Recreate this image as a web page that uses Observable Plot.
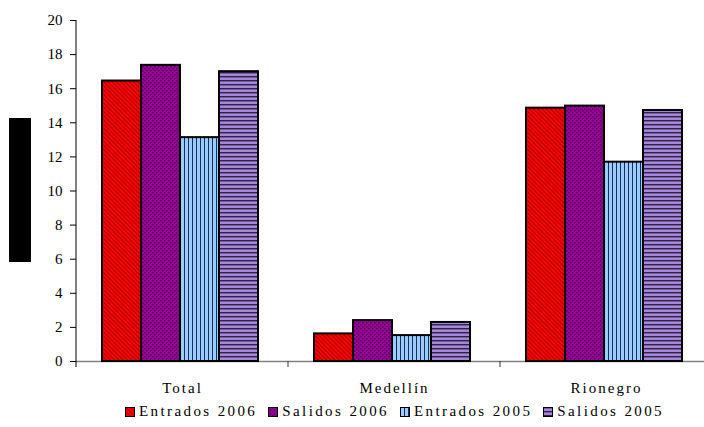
<!DOCTYPE html>
<html><head><meta charset="utf-8">
<script src="https://cdn.jsdelivr.net/npm/d3@7"></script>
<script src="https://cdn.jsdelivr.net/npm/@observablehq/plot@0.6"></script>
<style>
html,body{margin:0;padding:0;background:#fff;overflow:hidden;width:704px;height:427px;}
#wrap{position:relative;width:704px;height:427px;overflow:hidden;}
#chart{position:absolute;left:0;top:0;width:712px;}
#redact{position:absolute;left:9px;top:118px;width:22px;height:144px;background:#000;}
#legend{position:absolute;left:125px;top:403px;display:flex;align-items:center;font-family:"Liberation Serif","Times New Roman",Times,serif;font-size:15px;letter-spacing:2.4px;white-space:nowrap;color:#000;}
.item{display:flex;align-items:center;margin-right:11px;}
.sw{width:10px;height:10px;margin-right:4px;display:block;}
#chart svg text{font-family:"Liberation Serif","Times New Roman",Times,serif;}
</style>
</head>
<body>
<div id="wrap">
  <div id="chart"></div>
  <div id="redact"></div>
  <div id="legend"></div>
</div>
<script>
const categories = ["Total", "Medellín", "Rionegro"];
const series = ["Entrados 2006", "Salidos 2006", "Entrados 2005", "Salidos 2005"];
const entrados2006 = [16.45, 1.62, 14.86];
const salidos2006 = [17.37, 2.40, 14.98];
const entrados2005 = [13.13, 1.52, 11.69];
const salidos2005 = [17.00, 2.29, 14.72];
const yTicks = [0, 2, 4, 6, 8, 10, 12, 14, 16, 18, 20];

const seriesValues = [entrados2006, salidos2006, entrados2005, salidos2005];
const data = [];
categories.forEach((c, i) => {
  seriesValues.forEach((arr, j) => data.push({category: c, series: series[j], value: arr[i]}));
});
const patternIds = series.map((_, i) => `url(#pat${i})`);
const serif = "'Liberation Serif', 'Times New Roman', Times, serif";

const chart = Plot.plot({
  width: 712, height: 400,
  marginLeft: 76, marginRight: 0, marginTop: 20, marginBottom: 39,
  style: {fontFamily: serif, fontSize: "15px", color: "#000", background: "transparent", maxWidth: "none"},
  fx: {domain: categories, padding: 0, label: null, axis: "bottom", tickSize: 0, tickPadding: 21},
  x: {domain: series, padding: 0, insetLeft: 26, insetRight: 30, axis: null},
  y: {domain: [0, 20], ticks: yTicks, label: null, tickSize: 6, tickPadding: 8},
  color: {domain: series, range: patternIds},
  marks: [
    Plot.ruleY([0], {stroke: "#808080", strokeWidth: 1.5}),
    Plot.barY(data, {fx: "category", x: "series", y: "value", fill: "series", stroke: "#000", strokeWidth: 2})
  ]
});
chart.style.maxWidth = "none";

// pattern definitions
const defs = d3.select(chart).insert("defs", ":first-child");
function pat(id, w, h, transform) {
  const p = defs.append("pattern").attr("id", id).attr("width", w).attr("height", h).attr("patternUnits", "userSpaceOnUse");
  if (transform) p.attr("patternTransform", transform);
  return p;
}
let p = pat("pat0", 3, 3, "rotate(-45)");
p.append("rect").attr("width", 3).attr("height", 3).attr("fill", "#ff0000");
p.append("rect").attr("width", 0.8).attr("height", 3).attr("fill", "#900000");
p = pat("pat1", 4, 4);
p.append("rect").attr("width", 4).attr("height", 4).attr("fill", "#990099");
p.append("rect").attr("width", 1.5).attr("height", 1.5).attr("fill", "#550055");
p.append("rect").attr("x", 2).attr("y", 2).attr("width", 1.5).attr("height", 1.5).attr("fill", "#550055");
p = pat("pat2", 4, 4);
p.append("rect").attr("width", 4).attr("height", 4).attr("fill", "#99ccff");
p.append("rect").attr("width", 1).attr("height", 4).attr("fill", "#1c2a55");
p = pat("pat3", 4, 4);
p.append("rect").attr("width", 4).attr("height", 4).attr("fill", "#a585dc");
p.append("rect").attr("width", 4).attr("height", 1.4).attr("fill", "#2e2440");

// axis styling
d3.select(chart).selectAll("text").attr("fill", "#000");
const fxs = chart.scale("fx"), ys = chart.scale("y");
d3.select(chart).selectAll("[aria-label='fx-axis tick label'] text, [aria-label='fx-axis tick label']").style("letter-spacing", "2px");
d3.select(chart).selectAll("[aria-label='y-axis tick']").attr("stroke", "#555");
const g = d3.select(chart).append("g");
const x0 = fxs.apply(categories[0]);
g.append("line").attr("x1", x0).attr("x2", x0).attr("y1", ys.apply(20)).attr("y2", ys.apply(0) + 6).attr("stroke", "#000");
categories.slice(1).forEach(c => {
  const xx = fxs.apply(c);
  g.append("line").attr("x1", xx).attr("x2", xx).attr("y1", ys.apply(0)).attr("y2", ys.apply(0) + 6).attr("stroke", "#333");
});
document.getElementById("chart").appendChild(chart);

// legend
const legend = d3.select("#legend");
series.forEach((s, i) => {
  const it = legend.append("div").attr("class", "item");
  const sv = it.append("svg").attr("class", "sw").attr("width", 10).attr("height", 10);
  sv.append("rect").attr("x", 0.5).attr("y", 0.5).attr("width", 9).attr("height", 9).attr("fill", patternIds[i]).attr("stroke", "#000");
  it.append("span").text(s);
});
</script>
</body></html>
